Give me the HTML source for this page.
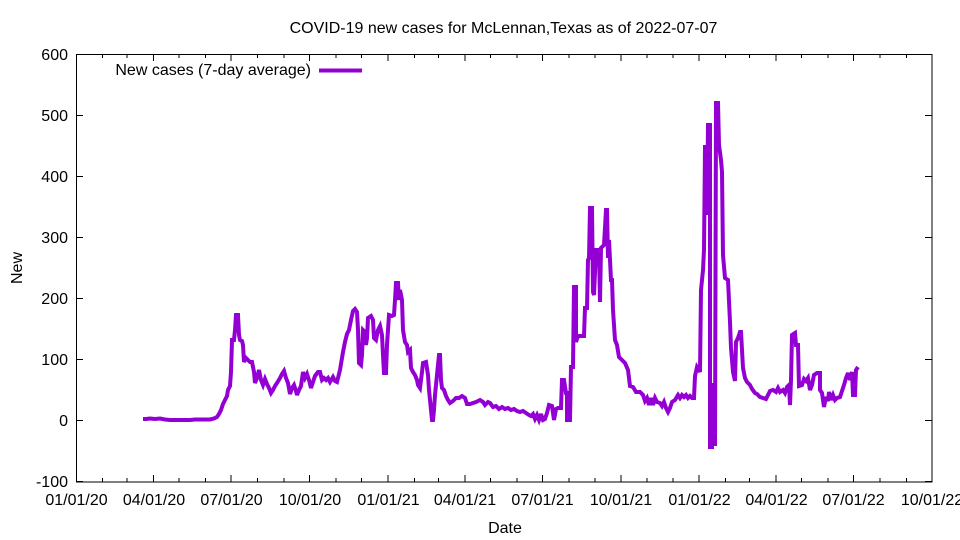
<!DOCTYPE html>
<html>
<head>
<meta charset="utf-8">
<style>
html,body{margin:0;padding:0;background:#fff;}
svg{display:block;}
text{font-family:"Liberation Sans",Arial,sans-serif;font-size:16px;fill:#000;}
</style>
</head>
<body>
<svg width="960" height="540" viewBox="0 0 960 540" xmlns="http://www.w3.org/2000/svg">
<rect x="0" y="0" width="960" height="540" fill="#fff"/>

<!-- title -->
<text x="503.5" y="33" text-anchor="middle">COVID-19 new cases for McLennan,Texas as of 2022-07-07</text>

<!-- ticks -->
<g stroke="#000" stroke-width="1" shape-rendering="crispEdges" fill="none">
  <!-- y major ticks left and right -->
  <path d="M76,54.5h7 M76,115.5h7 M76,176.5h7 M76,237.5h7 M76,298.5h7 M76,359.5h7 M76,420.5h7 M76,481.5h7
           M932,54.5h-7 M932,115.5h-7 M932,176.5h-7 M932,237.5h-7 M932,298.5h-7 M932,359.5h-7 M932,420.5h-7 M932,481.5h-7"/>
  <!-- x major ticks bottom and top -->
  <path d="M153.6,482v-7 M231.2,482v-7 M309.6,482v-7 M388,482v-7 M464.8,482v-7 M542.4,482v-7 M620.8,482v-7 M699.2,482v-7 M776,482v-7 M853.6,482v-7
           M153.6,54v7 M231.2,54v7 M309.6,54v7 M388,54v7 M464.8,54v7 M542.4,54v7 M620.8,54v7 M699.2,54v7 M776,54v7 M853.6,54v7"/>
  <!-- x minor ticks -->
  <path d="M102.4,482v-4 M127.2,482v-4 M179.2,482v-4 M205.6,482v-4 M257.6,482v-4 M284,482v-4 M336,482v-4 M361.6,482v-4 M414.5,482v-4 M438.4,482v-4 M490.4,482v-4 M516.8,482v-4 M568.8,482v-4 M595.2,482v-4 M647.2,482v-4 M672.8,482v-4 M725.7,482v-4 M749.5,482v-4 M801.6,482v-4 M828,482v-4 M880,482v-4 M906.4,482v-4
           M102.4,54v4 M127.2,54v4 M179.2,54v4 M205.6,54v4 M257.6,54v4 M284,54v4 M336,54v4 M361.6,54v4 M414.5,54v4 M438.4,54v4 M490.4,54v4 M516.8,54v4 M568.8,54v4 M595.2,54v4 M647.2,54v4 M672.8,54v4 M725.7,54v4 M749.5,54v4 M801.6,54v4 M828,54v4 M880,54v4 M906.4,54v4"/>
  <!-- frame -->
  <rect x="76.5" y="54.5" width="855.5" height="427.5"/>
</g>

<!-- y tick labels -->
<g text-anchor="end">
  <text x="68" y="60">600</text>
  <text x="68" y="121">500</text>
  <text x="68" y="182">400</text>
  <text x="68" y="243">300</text>
  <text x="68" y="304">200</text>
  <text x="68" y="365">100</text>
  <text x="68" y="426">0</text>
  <text x="68" y="487">-100</text>
</g>

<!-- x tick labels -->
<g text-anchor="middle">
  <text x="76.5" y="505">01/01/20</text>
  <text x="154" y="505">04/01/20</text>
  <text x="231.5" y="505">07/01/20</text>
  <text x="310" y="505">10/01/20</text>
  <text x="388.5" y="505">01/01/21</text>
  <text x="465" y="505">04/01/21</text>
  <text x="542.5" y="505">07/01/21</text>
  <text x="621" y="505">10/01/21</text>
  <text x="699.5" y="505">01/01/22</text>
  <text x="776.5" y="505">04/01/22</text>
  <text x="853.5" y="505">07/01/22</text>
  <text x="932" y="505">10/01/22</text>
</g>

<!-- axis labels -->
<text x="505" y="533" text-anchor="middle">Date</text>
<text transform="translate(22,268) rotate(-90)" text-anchor="middle">New</text>

<!-- legend -->
<text x="311" y="75" text-anchor="end">New cases (7-day average)</text>
<line x1="319" y1="70.5" x2="362" y2="70.5" stroke="#9400d3" stroke-width="4"/>

<!-- data -->
<polyline fill="none" stroke="#9400d3" stroke-width="4" stroke-linejoin="miter" stroke-miterlimit="3"
points="143,419 146,419 150,418.5 155,419 160,418.5 165,419.5 170,420 175,420 180,420 185,420 190,420 195,419.5 200,419.5 205,419.5 210,419.5 214,418.5 217,417 219,414 221,410 223,404 225,400 227,396 228,390 230,386 231,372 232,340 234,340 235,330 236,315 238,315 239,335 240,340 242,341 243,345 244,362 246,358 248,360 250,362 252,362 254,372 255,383 257,378 259,370 261,380 263,385 265,379 267,384 269,388 271,393 273,390 275,386 277,383 280,378 282,374 284,371 286,378 288,383 290,394 292,388 294,385 296,391 297,395 299,390 301,386 303,372 305,378 307,374 309,380 311,388 313,382 315,376 318,372 320,372 322,380 324,378 326,380 328,378 330,382 333,377 335,381 337,382
340,370 343,352 345,342 347,334 349,330 351,320 353,311 355,309 357,312 358,330 359,363 361,365 362,355 363,330 365,332 366,345 367,338 368,318 371,316 373,320 374,338 376,340 378,330 380,326 382,335 383,355 384,373 386,373 387,345 388,330 389,315 392,316 394,315 395,300 396,283 398,283 399,300 400,290 402,300 403,330 405,342 407,345 408,352 410,350 411,368 413,372 415,375 417,380 418,385 420,388 422,372 423,363 426,362 428,375 429,390 431,410 432,420 433,420 434,410 435,395 437,375 439,355 440,355 441,380 442,388 444,390 446,396 448,400 450,403 453,401 456,398 459,398 462,396 465,398 467,404 470,404
473,403 476,402 480,400 483,402 485,405 488,402 490,403 493,407 496,406 499,409 502,407 505,409 508,408 511,410 514,409 517,411 520,412 523,411 526,413 529,415 531,416 533,414 535,419 537,415 539,420 541,414 543,420 545,419 547,413 549,405 552,406 554,420 556,409 558,408 561,408 562,380 564,380 566,393 567,393 567,420 570,420 571,367 573,367 574,287 576,287 576,342 578,336 581,336 584,336 585,308 587,308 588,260 589,258 590,208 592,208 593,292 594,295 596,250 599,250 600,302 601,248 604,245 606,210 607,210 608,258 609,240 611,280 612,280 613,310 615,340 617,345 619,357 622,360 625,363 628,370 630,386 633,387 636,392 640,392 643,395 645,401 647,398 649,405 651,398 653,405 655,398 657,402 660,403 662,406 664,402 666,408 668,412 670,408 672,402 675,400 678,395 680,398 682,395 684,397 686,395 688,398 690,396 692,398 694,398
695,376 697,367 699,370 700,372 701,290 703,270 704,250 705,147 706,147 707,215 708,125 710,125 710,447 712,447 712,385 714,385 714,444 715,444 716,103 718,103 719,145 721,160 722,172 723,255 725,278 728,280 730,322 731,348 733,372 735,381 736,342 738,338 740,332 741,332 743,368 745,378 747,382 750,385 752,389 755,393 757,394 760,397 763,398 766,399 768,395 770,391 773,390 776,392 778,388 780,392 783,390 785,393 787,387 789,385 790,405 791,380 792,335 795,333 796,345 798,345 799,386 802,385 804,379 806,381 808,378 810,390 812,385 814,375 817,373 820,373 820,390 822,393 824,407 826,397 828,401 829,392 831,400 833,395 835,400 837,398 840,397 842,391 844,385 846,378 848,373 850,380 852,372 853,395 855,395 856,370 858,367"/>
</svg>
</body>
</html>
